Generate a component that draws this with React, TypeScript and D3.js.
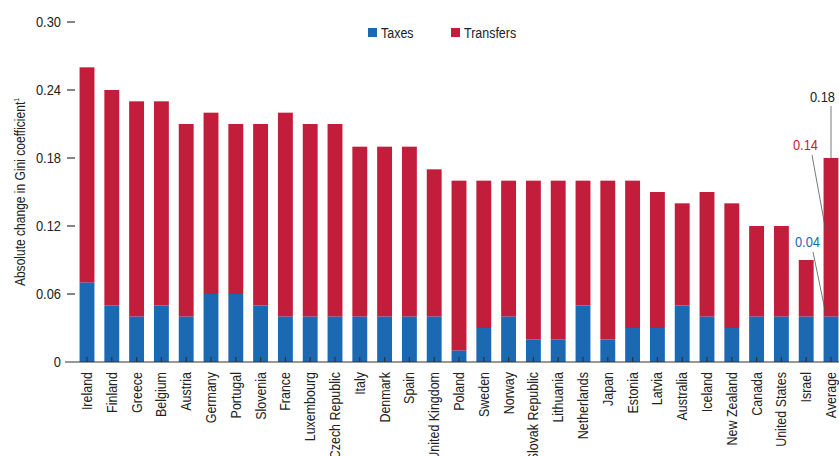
import React from "react";
import * as d3 from "d3";

const countries = ["Ireland","Finland","Greece","Belgium","Austria","Germany","Portugal","Slovenia","France","Luxembourg","Czech Republic","Italy","Denmark","Spain","United Kingdom","Poland","Sweden","Norway","Slovak Republic","Lithuania","Netherlands","Japan","Estonia","Latvia","Australia","Iceland","New Zealand","Canada","United States","Israel","Average"];
const totals = [0.26,0.24,0.23,0.23,0.21,0.22,0.21,0.21,0.22,0.21,0.21,0.19,0.19,0.19,0.17,0.16,0.16,0.16,0.16,0.16,0.16,0.16,0.16,0.15,0.14,0.15,0.14,0.12,0.12,0.09,0.18];
const taxes = [0.07,0.05,0.04,0.05,0.04,0.06,0.06,0.05,0.04,0.04,0.04,0.04,0.04,0.04,0.04,0.01,0.03,0.04,0.02,0.02,0.05,0.02,0.03,0.03,0.05,0.04,0.03,0.04,0.04,0.04,0.04];
const yTicks = [0, 0.06, 0.12, 0.18, 0.24, 0.30];

const W = 839, H = 456;
const BLUE = "#1b68b3";
const RED = "#c21d3b";
const FONT = "'Liberation Sans', Arial, sans-serif";
const SX = 0.86;

function T(props: { x: number; y: number; rot?: boolean; size: number; fill?: string; anchor?: string; children: React.ReactNode }) {
  const { x, y, rot, size, fill = "#222", anchor = "start", children } = props;
  return (
    <text
      transform={`translate(${x},${y})${rot ? " rotate(-90)" : ""} scale(${SX},1)`}
      textAnchor={anchor}
      fontSize={size}
      fill={fill}
    >
      {children}
    </text>
  );
}

export default function App() {
  const x = d3.scaleBand<string>().domain(countries).range([74.6, 843.4]).paddingInner(0.4).paddingOuter(0.2);
  const y = d3.scaleLinear().domain([0, 0.3]).range([362, 22]);
  const bw = x.bandwidth();
  const avg = countries.length - 1;
  const ax = (x(countries[avg]) as number) + bw / 2;
  const fmt = (v: number) => (v === 0 ? "0" : v.toFixed(2));
  return (
    <svg width={W} height={H} style={{ position: "absolute", left: 0, top: 0, background: "#fff" }} fontFamily={FONT}>
      {countries.map((c, i) => {
        const x0 = x(c) as number;
        return (
          <g key={c}>
            <rect x={x0} y={y(totals[i])} width={bw} height={y(taxes[i]) - y(totals[i])} fill={RED} />
            <rect x={x0} y={y(taxes[i])} width={bw} height={y(0) - y(taxes[i])} fill={BLUE} />
            <line x1={x0 + bw / 2} x2={x0 + bw / 2} y1={y(0)} y2={y(0) - 5} stroke="#333" strokeWidth={1.2} />
            <T x={x0 + bw / 2 + 5} y={y(0) + 10} rot size={14.5} anchor="end">{c}</T>
          </g>
        );
      })}
      <line x1={65} x2={W} y1={y(0)} y2={y(0)} stroke="#333" strokeWidth={1.2} />
      {yTicks.map((t) => (
        <g key={t}>
          {t > 0 && <line x1={67} x2={75} y1={y(t)} y2={y(t)} stroke="#333" strokeWidth={1.2} />}
          <T x={61} y={y(t) + 5} size={15} anchor="end">{fmt(t)}</T>
        </g>
      ))}
      <text transform={`translate(25,192) rotate(-90) scale(${SX},1)`} textAnchor="middle" fontSize={14} fill="#222">
        Absolute change in Gini coefficient<tspan fontSize={8} dy={-6}>1</tspan>
      </text>
      <rect x={368} y={28} width={9} height={9} fill={BLUE} />
      <T x={381} y={38} size={14.5}>Taxes</T>
      <rect x={451} y={28} width={9} height={9} fill={RED} />
      <T x={464} y={38} size={14.5}>Transfers</T>
      <T x={835} y={102} size={15} anchor="end">{totals[avg].toFixed(2)}</T>
      <line x1={ax} x2={ax} y1={106} y2={y(totals[avg])} stroke="#555" strokeWidth={0.8} />
      <T x={818} y={150} size={15} anchor="end" fill={RED}>{(totals[avg] - taxes[avg]).toFixed(2)}</T>
      <line x1={812} x2={826} y1={155} y2={232} stroke="#555" strokeWidth={0.8} />
      <T x={820} y={247} size={15} anchor="end" fill={BLUE}>{taxes[avg].toFixed(2)}</T>
      <line x1={813} x2={826} y1={252} y2={315} stroke="#555" strokeWidth={0.8} />
    </svg>
  );
}
